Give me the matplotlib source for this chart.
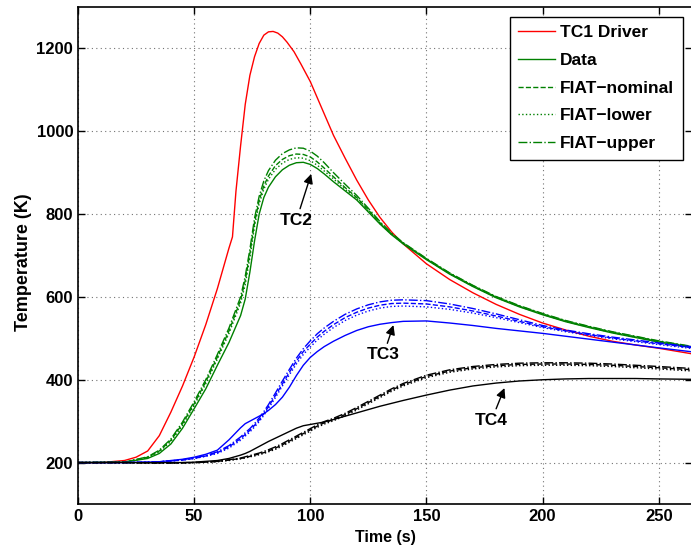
import matplotlib
matplotlib.use("Agg")
import matplotlib.pyplot as plt

plt.rcParams['font.family'] = ['Liberation Sans', 'DejaVu Sans']
plt.rcParams['font.weight'] = 'bold'

# TC1 Driver (red)
t_tc1 = [0, 10, 20, 25, 30, 35, 40, 45, 50, 55, 60, 65, 66.5, 68, 70, 72, 74, 76, 78, 80, 82, 84, 86, 88, 90,
         93, 96, 100, 105, 110, 115, 120, 125, 130, 135, 140, 150, 160, 170, 180, 190, 200, 210, 220, 230,
         240, 250, 265]
T_tc1 = [200, 200, 205, 213, 228, 265, 322, 385, 455, 533, 620, 718, 745, 855, 965, 1065, 1135, 1180, 1212,
         1232, 1240, 1241, 1237, 1228, 1215, 1192, 1162, 1120, 1055, 990, 935, 882, 834, 792, 757, 728, 680,
         642, 610, 582, 558, 537, 520, 505, 493, 484, 476, 462]

# Common time grid for TC2-TC4
t_tc = [0, 20, 30, 35, 40, 45, 50, 55, 60, 65, 70, 72, 74, 76, 78, 80, 82, 85, 88, 91, 94, 97, 100, 103, 106,
        110, 115, 120, 125, 130, 135, 140, 150, 160, 170, 180, 190, 200, 210, 220, 230, 240, 250, 265]

# TC2 (green)
T_tc2_data = [200, 201, 210, 222, 245, 283, 330, 378, 435, 490, 555, 595, 660, 735, 800, 840, 865, 890, 907,
              918, 924, 925, 920, 910, 897, 878, 856, 834, 805, 776, 750, 728, 690, 655, 625, 598, 576, 557,
              540, 526, 513, 502, 491, 477]
T_tc2_nom = [200, 201, 213, 228, 254, 294, 342, 395, 455, 518, 592, 640, 705, 780, 833, 868, 892, 917, 932,
             941, 945, 944, 938, 926, 911, 890, 864, 840, 810, 779, 752, 730, 692, 657, 627, 600, 578, 559,
             542, 528, 515, 504, 493, 479]
T_tc2_low = [200, 201, 212, 226, 251, 290, 338, 390, 450, 512, 585, 630, 695, 770, 825, 860, 884, 908, 923,
             932, 936, 935, 929, 918, 904, 885, 860, 837, 807, 777, 751, 729, 691, 656, 626, 599, 577, 558,
             541, 527, 514, 503, 492, 478]
T_tc2_up = [200, 201, 214, 230, 257, 298, 347, 400, 461, 525, 600, 650, 715, 790, 843, 880, 905, 930, 946,
            955, 960, 959, 952, 940, 924, 900, 872, 845, 814, 782, 754, 731, 693, 658, 628, 601, 579, 560,
            543, 529, 516, 505, 494, 480]

# TC3 (blue)
T_tc3_data = [200, 200, 201, 202, 205, 208, 213, 220, 230, 255, 284, 294, 300, 306, 312, 318, 326, 340, 358,
              382, 410, 435, 454, 468, 480, 493, 507, 519, 528, 534, 538, 541, 542, 537, 531, 524, 518, 512,
              505, 498, 491, 484, 477, 467]
T_tc3_nom = [200, 200, 201, 202, 204, 206, 210, 216, 224, 238, 258, 268, 278, 290, 303, 318, 335, 362, 390,
             418, 445, 468, 486, 503, 517, 533, 550, 563, 573, 580, 584, 585, 583, 576, 566, 554, 541, 528,
             518, 509, 501, 494, 487, 477]
T_tc3_low = [200, 200, 201, 202, 204, 206, 210, 215, 222, 235, 254, 264, 274, 286, 299, 314, 331, 357, 385,
             412, 438, 461, 479, 496, 510, 526, 543, 556, 566, 573, 577, 578, 576, 570, 561, 550, 538, 526,
             516, 507, 499, 492, 485, 475]
T_tc3_up = [200, 200, 201, 202, 204, 207, 211, 217, 226, 241, 262, 272, 282, 294, 308, 323, 340, 368, 397,
            425, 452, 475, 494, 511, 525, 541, 558, 571, 581, 588, 592, 593, 591, 583, 572, 559, 545, 531,
            520, 511, 503, 496, 489, 479]

# TC4 (black)
T_tc4_data = [200, 200, 200, 200, 200, 200, 201, 203, 205, 210, 218, 222, 227, 233, 239, 245, 251, 259, 267,
              275, 283, 289, 292, 295, 298, 304, 312, 320, 328, 336, 343, 350, 363, 375, 385, 392, 397, 400,
              402, 403, 403, 403, 402, 401]
T_tc4_nom = [200, 200, 199, 199, 199, 199, 200, 201, 203, 206, 210, 212, 215, 218, 221, 224, 228, 235, 243,
             252, 261, 270, 279, 288, 296, 304, 316, 330, 345, 360, 375, 388, 408, 421, 429, 434, 437, 438,
             438, 437, 435, 432, 429, 424]
T_tc4_low = [200, 200, 199, 199, 199, 199, 200, 201, 202, 205, 209, 211, 214, 216, 219, 222, 226, 232, 240,
             249, 258, 267, 276, 285, 293, 301, 313, 327, 342, 357, 372, 385, 405, 418, 426, 431, 434, 435,
             435, 434, 432, 429, 426, 421]
T_tc4_up = [200, 200, 199, 199, 199, 200, 200, 201, 203, 207, 211, 214, 217, 220, 223, 227, 231, 238, 246,
            255, 264, 273, 282, 291, 299, 307, 319, 333, 348, 363, 378, 391, 411, 424, 432, 437, 440, 441,
            441, 440, 438, 435, 432, 427]

xticks = [0, 50, 100, 150, 200, 250]
yticks = [200, 400, 600, 800, 1000, 1200]

fig = plt.figure(figsize=(6.91, 5.46), dpi=100)
ax = fig.add_axes([78/691, 42/546, 1 - 78/691 + 0.002, (504 - 7)/546])

green = (0.0, 0.5, 0.0)
lw = 1.0
ax.plot(t_tc1, T_tc1, color='r', lw=lw, label='TC1 Driver')
ax.plot(t_tc, T_tc2_data, color=green, lw=lw, label='Data')
ax.plot(t_tc, T_tc2_nom, color=green, lw=lw, ls='--', label='FIAT\u2212nominal')
ax.plot(t_tc, T_tc2_low, color=green, lw=lw, ls=':', label='FIAT\u2212lower')
ax.plot(t_tc, T_tc2_up, color=green, lw=lw, ls='-.', label='FIAT\u2212upper')
ax.plot(t_tc, T_tc3_data, color='b', lw=lw)
ax.plot(t_tc, T_tc3_nom, color='b', lw=lw, ls='--')
ax.plot(t_tc, T_tc3_low, color='b', lw=lw, ls=':')
ax.plot(t_tc, T_tc3_up, color='b', lw=lw, ls='-.')
ax.plot(t_tc, T_tc4_data, color='k', lw=lw)
ax.plot(t_tc, T_tc4_nom, color='k', lw=lw, ls='--')
ax.plot(t_tc, T_tc4_low, color='k', lw=lw, ls=':')
ax.plot(t_tc, T_tc4_up, color='k', lw=lw, ls='-.')

ax.set_xlim(0, 264.5)
ax.set_ylim(100, 1300)
ax.set_xticks(xticks)
ax.set_yticks(yticks)
ax.tick_params(direction='in', length=5, width=1, top=True, right=True, labelsize=12)
for lab in ax.get_xticklabels() + ax.get_yticklabels():
    lab.set_fontweight('bold')
for s in ax.spines.values():
    s.set_linewidth(1.2)
ax.grid(True, color='0.45', ls=(0, (1, 3)), lw=0.8)

ax.set_xlabel('Time (s)', fontsize=11.5, fontweight='bold')
ax.set_ylabel('Temperature (K)', fontsize=13, fontweight='bold')
ax.yaxis.set_label_coords(-0.075, 0.487)
ax.xaxis.set_label_coords(0.5, -0.052)

arrow = dict(arrowstyle='-|>', color='k', lw=1.0, mutation_scale=14, shrinkA=1, shrinkB=0)
ax.annotate('TC2', xy=(100.4, 897), xytext=(94, 785), fontsize=12.5, fontweight='bold',
            ha='center', va='center', arrowprops=arrow)
ax.annotate('TC3', xy=(135.8, 532), xytext=(131.5, 460), fontsize=12.5, fontweight='bold',
            ha='center', va='center', arrowprops=arrow)
ax.annotate('TC4', xy=(183.6, 380), xytext=(178, 302), fontsize=12.5, fontweight='bold',
            ha='center', va='center', arrowprops=arrow)

leg = ax.legend(loc='upper right', fontsize=12.5, fancybox=False, framealpha=1, edgecolor='k',
                borderaxespad=0.55, handlelength=2.1, handletextpad=0.3, labelspacing=0.72,
                borderpad=0.5)
leg.get_frame().set_linewidth(1.0)
for txt in leg.get_texts():
    txt.set_fontweight('bold')

fig.savefig('out.png', dpi=100)
